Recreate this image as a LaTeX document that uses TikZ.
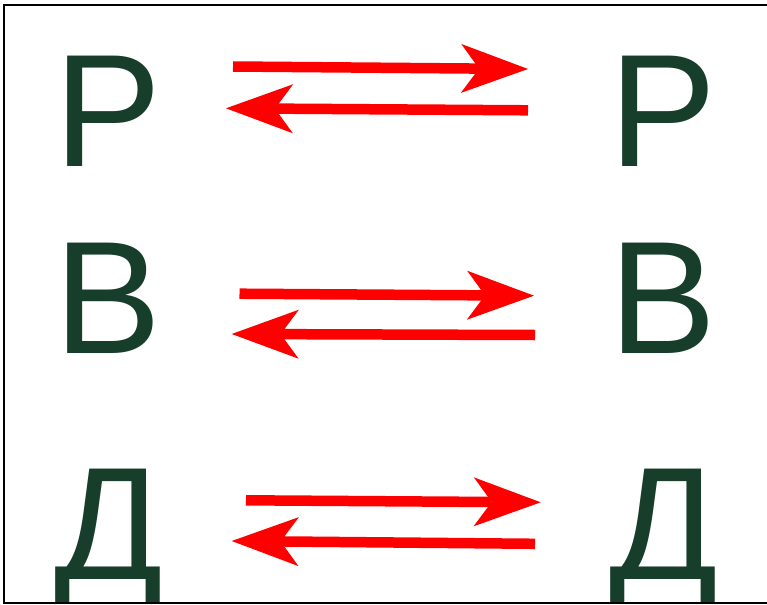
\documentclass[tikz,border=0pt]{standalone}
\usepackage{fontspec}
\setmainfont{Liberation Sans}
\usetikzlibrary{arrows.meta}
\definecolor{lettergreen}{RGB}{23,61,43}
\definecolor{arrowred}{RGB}{255,0,0}
\begin{document}
\begin{tikzpicture}[x=1pt,y=-1pt,
  letter/.style={anchor=base west, inner sep=0pt, text=lettergreen,
    font=\fontsize{160.5}{160.5}\selectfont},
  swaparrow/.style={draw=arrowred, line width=10.5pt,
    -{Stealth[length=67pt,width=49pt,inset=18pt,line width=0pt]}}]
\useasboundingbox (0,0) rectangle (767,604);

% letters, clipped by the frame at the bottom
\begin{scope}
  \clip (0,0) rectangle (767,602);
  \node[letter] (p1) at (54,167) {Р};
  \node[letter] (p2) at (609,167) {Р};
  \node[letter] (v1) at (54,353) {В};
  \node[letter] (v2) at (609,353) {В};
  \node[letter] (d1) at (54,579) {Д};
  \node[letter] (d2) at (609,579) {Д};
\end{scope}

% arrow end points
\coordinate (a1s) at (233,66.5);  \coordinate (a1e) at (528,69);
\coordinate (b1s) at (528,110.3); \coordinate (b1e) at (226,108.3);
\coordinate (a2s) at (239.5,293.7); \coordinate (a2e) at (534,295.7);
\coordinate (b2s) at (535,335);   \coordinate (b2e) at (231.7,334);
\coordinate (a3s) at (246,500.3); \coordinate (a3e) at (540.7,502.3);
\coordinate (b3s) at (535,543.8); \coordinate (b3e) at (231.7,541);

\draw[swaparrow] (a1s) -- (a1e);
\draw[swaparrow] (b1s) -- (b1e);
\draw[swaparrow] (a2s) -- (a2e);
\draw[swaparrow] (b2s) -- (b2e);
\draw[swaparrow] (a3s) -- (a3e);
\draw[swaparrow] (b3s) -- (b3e);

% frame, open to the right
\coordinate (ftr) at (770,5);
\coordinate (ftl) at (4,5);
\coordinate (fbl) at (4,602.5);
\coordinate (fbr) at (770,602.5);
\draw[line width=2pt, black] (ftr) -- (ftl) -- (fbl) -- (fbr);
\end{tikzpicture}
\end{document}
